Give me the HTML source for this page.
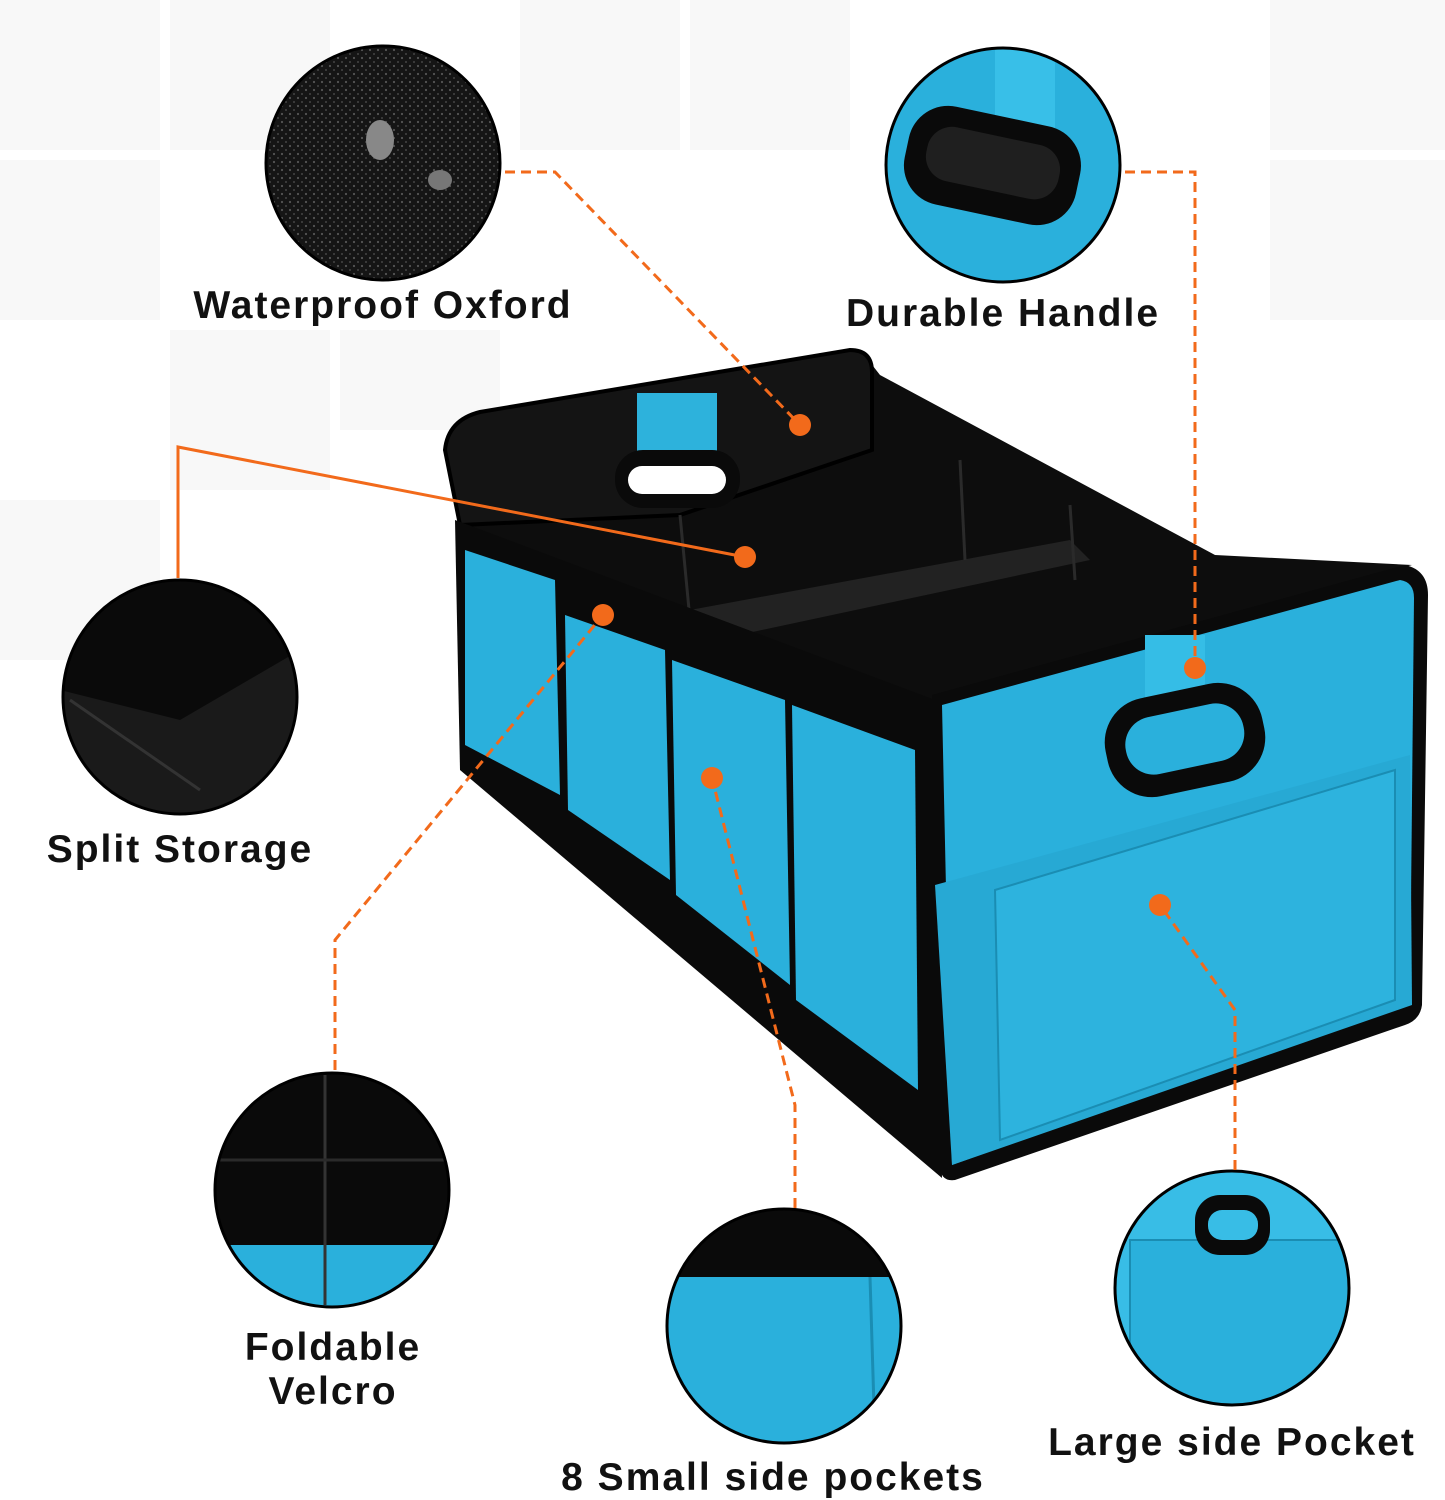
<!DOCTYPE html>
<html><head><meta charset="utf-8"><style>
html,body{margin:0;padding:0;background:#fff;}
svg{display:block}
text{font-family:"Liberation Sans",sans-serif;font-weight:bold;font-size:39px;letter-spacing:2px;fill:#111;}
</style></head><body>
<svg width="1445" height="1500" viewBox="0 0 1445 1500" xmlns="http://www.w3.org/2000/svg">
<defs>
<pattern id="tex" width="8" height="8" patternUnits="userSpaceOnUse">
<rect width="8" height="8" fill="#151515"/><circle cx="2" cy="2" r="1.1" fill="#555"/><circle cx="6" cy="6" r="1" fill="#444"/>
</pattern>
<clipPath id="c1"><circle cx="383" cy="163" r="116"/></clipPath>
<clipPath id="c2"><circle cx="1003" cy="165" r="116"/></clipPath>
<clipPath id="c3"><circle cx="180" cy="697" r="116"/></clipPath>
<clipPath id="c4"><circle cx="332" cy="1190" r="116"/></clipPath>
<clipPath id="c5"><circle cx="784" cy="1326" r="116"/></clipPath>
<clipPath id="c6"><circle cx="1232" cy="1288" r="116"/></clipPath>
</defs>
<rect width="1445" height="1500" fill="#fff"/>
<g fill="#f8f8f8">
<rect x="0" y="0" width="160" height="150"/><rect x="170" y="0" width="160" height="150"/>
<rect x="0" y="160" width="160" height="160"/><rect x="170" y="330" width="160" height="160"/>
<rect x="0" y="500" width="160" height="160"/><rect x="340" y="330" width="160" height="100"/>
<rect x="520" y="0" width="160" height="150"/><rect x="690" y="0" width="160" height="150"/>
<rect x="1270" y="0" width="175" height="150"/><rect x="1270" y="160" width="175" height="160"/>
</g>

<polygon points="448,440 862,352 880,375 1215,555 1412,565 932,700 462,525" fill="#0d0d0d"/>
<path d="M445,450 Q448,420 480,412 L850,350 Q872,350 872,372 L872,450 L680,515 L460,525 Z" fill="#141414" stroke="#000" stroke-width="4"/>
<polygon points="690,610 1070,540 1090,560 715,640" fill="#222"/>
<line x1="680" y1="515" x2="690" y2="620" stroke="#2a2a2a" stroke-width="3"/>
<line x1="960" y1="460" x2="965" y2="560" stroke="#2a2a2a" stroke-width="3"/>
<line x1="1070" y1="505" x2="1075" y2="580" stroke="#2a2a2a" stroke-width="3"/>
<rect x="637" y="393" width="80" height="62" fill="#2db2dc"/>
<rect x="615" y="450" width="125" height="58" rx="28" fill="#0a0a0a"/>
<rect x="628" y="466" width="98" height="28" rx="14" fill="#fff"/>
<polygon points="455,520 935,700 942,1178 460,770" fill="#0a0a0a"/>
<g fill="#2ab0dc">
<polygon points="465,550 555,580 560,795 465,745"/>
<polygon points="565,615 665,650 670,880 568,810"/>
<polygon points="672,660 785,700 790,985 676,895"/>
<polygon points="792,705 915,750 918,1090 796,1000"/>
</g>
<path d="M932,695 L1405,565 Q1428,570 1428,595 L1422,1005 Q1420,1020 1405,1025 L955,1180 Q940,1182 940,1165 Z" fill="#0a0a0a"/>
<path d="M942,705 L1400,580 Q1414,582 1414,598 L1410,1000 L952,1165 Z" fill="#2ab0dc"/>
<polygon points="935,885 1410,755 1412,1005 952,1165" fill="#27a9d4"/>
<polygon points="995,890 1395,770 1395,1000 1000,1140" fill="#2db3de" stroke="#1a8db3" stroke-width="2"/>
<rect x="1145" y="635" width="60" height="80" fill="#35bde6"/>
<rect x="1105" y="690" width="160" height="100" rx="45" transform="rotate(-12 1185 740)" fill="#0a0a0a"/>
<rect x="1125" y="710" width="120" height="58" rx="28" transform="rotate(-12 1185 740)" fill="#2ab0dc"/>

<g clip-path="url(#c1)"><rect x="260" y="40" width="250" height="250" fill="url(#tex)"/>
<ellipse cx="380" cy="140" rx="14" ry="20" fill="#888"/><ellipse cx="440" cy="180" rx="12" ry="10" fill="#777"/></g>
<circle cx="383" cy="163" r="117" fill="none" stroke="#000" stroke-width="3"/>

<g clip-path="url(#c2)"><rect x="880" y="40" width="250" height="250" fill="#2ab0dc"/>
<rect x="995" y="40" width="60" height="130" fill="#38bfe8"/>
<rect x="905" y="115" width="175" height="100" rx="40" transform="rotate(12 990 165)" fill="#0a0a0a"/>
<rect x="925" y="135" width="135" height="55" rx="25" transform="rotate(12 990 165)" fill="#1f1f1f"/></g>
<circle cx="1003" cy="165" r="117" fill="none" stroke="#000" stroke-width="3"/>

<g clip-path="url(#c3)"><rect x="60" y="575" width="250" height="250" fill="#0a0a0a"/>
<polygon points="60,690 180,720 300,650 300,820 60,820" fill="#1a1a1a"/>
<line x1="70" y1="700" x2="200" y2="790" stroke="#333" stroke-width="3"/></g>
<circle cx="180" cy="697" r="117" fill="none" stroke="#000" stroke-width="3"/>

<g clip-path="url(#c4)"><rect x="210" y="1070" width="250" height="250" fill="#0a0a0a"/>
<rect x="210" y="1245" width="250" height="80" fill="#2ab0dc"/>
<line x1="325" y1="1075" x2="325" y2="1305" stroke="#333" stroke-width="3"/>
<line x1="210" y1="1160" x2="460" y2="1160" stroke="#2a2a2a" stroke-width="3"/></g>
<circle cx="332" cy="1190" r="117" fill="none" stroke="#000" stroke-width="3"/>

<g clip-path="url(#c5)"><rect x="660" y="1205" width="250" height="250" fill="#2ab0dc"/>
<rect x="660" y="1205" width="250" height="72" fill="#0a0a0a"/>
<line x1="870" y1="1277" x2="875" y2="1440" stroke="#1a8db3" stroke-width="3"/></g>
<circle cx="784" cy="1326" r="117" fill="none" stroke="#000" stroke-width="3"/>

<g clip-path="url(#c6)"><rect x="1110" y="1165" width="250" height="250" fill="#38bde6"/>
<rect x="1130" y="1240" width="230" height="180" fill="#2ab0dc" stroke="#1a8db3" stroke-width="2"/>
<rect x="1195" y="1195" width="75" height="60" rx="25" fill="#0a0a0a"/>
<rect x="1208" y="1210" width="50" height="30" rx="14" fill="#38bde6"/></g>
<circle cx="1232" cy="1288" r="117" fill="none" stroke="#000" stroke-width="3"/>

<g fill="none" stroke="#f26a1b" stroke-width="3">
<polyline points="505,172 555,172 800,425" stroke-dasharray="10,6"/>
<polyline points="1125,172 1195,172 1195,668" stroke-dasharray="10,6"/>
<polyline points="178,578 178,447 745,557"/>
<polyline points="335,1070 335,940 603,615" stroke-dasharray="10,6"/>
<polyline points="795,1208 795,1105 712,778" stroke-dasharray="10,6"/>
<polyline points="1235,1170 1235,1010 1160,905" stroke-dasharray="10,6"/>
</g>
<g fill="#f26a1b">
<circle cx="800" cy="425" r="11"/><circle cx="1195" cy="668" r="11"/>
<circle cx="745" cy="557" r="11"/><circle cx="603" cy="615" r="11"/>
<circle cx="712" cy="778" r="11"/><circle cx="1160" cy="905" r="11"/>
</g>

<text x="383" y="318" text-anchor="middle">Waterproof Oxford</text>
<text x="1003" y="326" text-anchor="middle">Durable Handle</text>
<text x="180" y="862" text-anchor="middle">Split Storage</text>
<text x="333" y="1360" text-anchor="middle">Foldable</text>
<text x="333" y="1404" text-anchor="middle">Velcro</text>
<text x="773" y="1490" text-anchor="middle">8 Small side pockets</text>
<text x="1232" y="1455" text-anchor="middle">Large side Pocket</text>
</svg>
</body></html>
